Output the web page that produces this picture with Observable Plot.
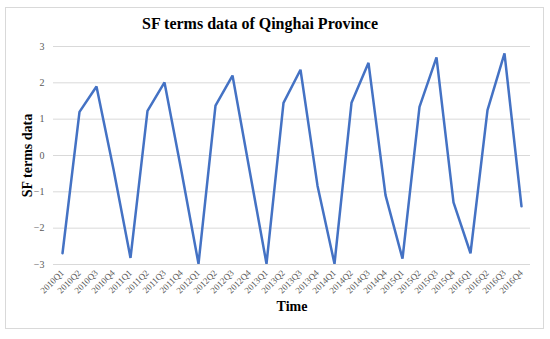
<!DOCTYPE html>
<html>
<head>
<meta charset="utf-8">
<script src="https://cdn.jsdelivr.net/npm/d3@7"></script>
<script src="https://cdn.jsdelivr.net/npm/@observablehq/plot@0.6"></script>
<style>
  html, body { margin: 0; padding: 0; background: #fff; }
  #wrap { position: relative; width: 550px; height: 339px; font-family: "Liberation Serif", "Times New Roman", serif; }
  #frame { position: absolute; left: 5px; top: 7px; width: 539px; height: 322px; border: 1px solid #d9d9d9; box-sizing: border-box; }
  #title { position: absolute; left: 0; width: 520px; top: 14px; text-align: center; font-weight: bold; font-size: 16px; line-height: 20px; color: #000; }
  #chart { position: absolute; left: 0; top: 38px; }
</style>
</head>
<body>
<div id="wrap">
  <div id="frame"></div>
  <div id="title">SF terms data of Qinghai Province</div>
  <div id="chart"></div>
</div>
<script>
const quarters = [
  "2010Q1","2010Q2","2010Q3","2010Q4",
  "2011Q1","2011Q2","2011Q3","2011Q4",
  "2012Q1","2012Q2","2012Q3","2012Q4",
  "2013Q1","2013Q2","2013Q3","2013Q4",
  "2014Q1","2014Q2","2014Q3","2014Q4",
  "2015Q1","2015Q2","2015Q3","2015Q4",
  "2016Q1","2016Q2","2016Q3","2016Q4"
];
const sfValues = [
  -2.69, 1.20, 1.90, -0.38,
  -2.82, 1.23, 2.01, -0.44,
  -2.98, 1.37, 2.20, -0.40,
  -2.98, 1.45, 2.36, -0.83,
  -2.98, 1.45, 2.55, -1.09,
  -2.84, 1.34, 2.70, -1.29,
  -2.69, 1.25, 2.81, -1.40
];
const yTicks = [-3, -2, -1, 0, 1, 2, 3];
const xTitle = "Time";
const yTitle = "SF terms data";

const data = quarters.map((q, i) => ({q, v: sfValues[i]}));

const chart = Plot.plot({
  width: 550,
  height: 301,
  marginTop: 8,
  marginBottom: 75,
  marginLeft: 53,
  marginRight: 20,
  style: {fontFamily: '"Liberation Serif", "Times New Roman", serif', background: "transparent"},
  x: {type: "point", domain: quarters, padding: 0.5},
  y: {domain: [-3, 3]},
  marks: [
    Plot.gridY(yTicks, {stroke: "#d9d9d9", strokeOpacity: 1, strokeWidth: 1}),
    Plot.axisY(yTicks, {tickSize: 0, tickPadding: 9, fontSize: 10, color: "#595959", label: null}),
    Plot.axisX({tickRotate: -45, tickSize: 0, tickPadding: 7, fontSize: 9, color: "#595959", label: null}),
    Plot.line(data, {x: "q", y: "v", stroke: "#4472C4", strokeWidth: 2.5, strokeLinejoin: "miter"}),
    Plot.text([xTitle], {frameAnchor: "bottom", textAnchor: "middle", dy: 46, fontSize: 14, fontWeight: "bold", fill: "#000"}),
    Plot.text([yTitle], {frameAnchor: "left", textAnchor: "middle", dx: -26, rotate: -90, fontSize: 14, fontWeight: "bold", fill: "#000"})
  ]
});
document.getElementById("chart").appendChild(chart);
</script>
</body>
</html>
